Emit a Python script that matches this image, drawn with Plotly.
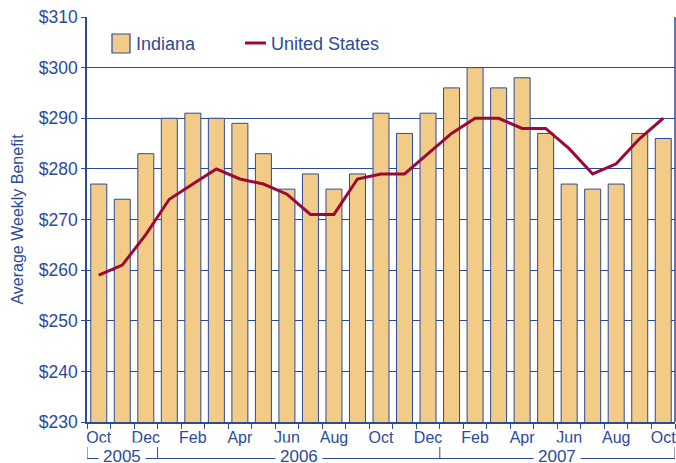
import plotly.graph_objects as go

months = ["Oct", "Nov", "Dec", "Jan", "Feb", "Mar", "Apr", "May", "Jun", "Jul", "Aug", "Sep",
          "Oct", "Nov", "Dec", "Jan", "Feb", "Mar", "Apr", "May", "Jun", "Jul", "Aug", "Sep", "Oct"]
indiana = [277, 274, 283, 290, 291, 290, 289, 283, 276, 279, 276, 279,
           291, 287, 291, 296, 300, 296, 298, 287, 277, 276, 277, 287, 286]
united_states = [259, 261, 267, 274, 277, 280, 278, 277, 275, 271, 271, 278,
                 279, 279, 283, 287, 290, 290, 288, 288, 284, 279, 281, 286, 290]
years = ["2005", "2006", "2007"]
year_bounds = [(-0.5, 2.5), (2.5, 14.5), (14.5, 24.5)]

BLUE = "#2b4a9b"
BAR_FILL = "#f2cb87"
LINE_RED = "#9b0a35"
FONT = "Liberation Sans, Arial, sans-serif"
idx = list(range(len(months)))

W, H = 676, 463
L, R, T, B = 87, 1, 17, 41
PW, PH = W - L - R, H - T - B


def px(x):
    return (x - L) / PW


def py(y):
    return (H - B - y) / PH


fig = go.Figure()
fig.add_trace(go.Bar(x=idx, y=indiana, name="Indiana",
                     marker=dict(color=BAR_FILL, line=dict(color=BLUE, width=1))))
fig.add_trace(go.Scatter(x=idx, y=united_states, name="United States", mode="lines",
                         line=dict(color=LINE_RED, width=3)))

fig.update_layout(
    width=W, height=H,
    margin=dict(l=L, r=R, t=T, b=B, autoexpand=False),
    paper_bgcolor="white", plot_bgcolor="white",
    bargap=0.32,
    font=dict(family=FONT, color=BLUE),
    showlegend=False,
    xaxis=dict(range=[-0.5, 24.5], tickvals=idx[::2], ticktext=months[::2],
               ticks="", tickfont=dict(size=16, color=BLUE), automargin=False,
               ticklabeloverflow="allow",
               showline=True, linecolor=BLUE, linewidth=1.5,
               showgrid=False, zeroline=False,
               minor=dict(tickvals=[i - 0.5 for i in range(len(months) + 1)],
                          ticks="outside", ticklen=5, tickcolor=BLUE, showgrid=False)),
    yaxis=dict(range=[230, 310], dtick=10, tickprefix="$", automargin=False,
               tickfont=dict(size=17.5, color=BLUE),
               showgrid=True, gridcolor=BLUE, gridwidth=1,
               showline=True, linecolor=BLUE, linewidth=1.5,
               ticks="outside", ticklen=4, tickcolor=BLUE, zeroline=False,
               title=dict(text="Average Weekly Benefit", font=dict(size=16, color=BLUE), standoff=11)),
)

# right frame line
fig.add_shape(type="line", xref="paper", yref="paper", x0=1, x1=1, y0=0, y1=1,
              line=dict(color=BLUE, width=1.5))

# manual legend
fig.add_shape(type="rect", xref="paper", yref="paper",
              x0=px(112), x1=px(130), y0=py(53), y1=py(34),
              fillcolor=BAR_FILL, line=dict(color=BLUE, width=1.2))
fig.add_annotation(x=px(134), y=py(43.5), xref="paper", yref="paper", text="Indiana",
                   showarrow=False, xanchor="left", yanchor="middle",
                   font=dict(size=18, color=BLUE))
fig.add_shape(type="line", xref="paper", yref="paper",
              x0=px(245), x1=px(266), y0=py(43), y1=py(43),
              line=dict(color=LINE_RED, width=3))
fig.add_annotation(x=px(269), y=py(43.5), xref="paper", yref="paper", text="United States",
                   showarrow=False, xanchor="left", yanchor="middle",
                   font=dict(size=18, color=BLUE))

# year brackets below the axis
ly = py(458.5)
fig.add_shape(type="line", xref="x", yref="paper", x0=-0.5, x1=24.5, y0=ly, y1=ly,
              line=dict(color=BLUE, width=1))
for b in [-0.5, 2.5, 14.5, 24.5]:
    fig.add_shape(type="line", xref="x", yref="paper", x0=b, x1=b, y0=ly, y1=py(447),
                  line=dict(color=BLUE, width=1))
for (a, b), yr in zip(year_bounds, years):
    fig.add_annotation(x=(a + b) / 2, y=py(456.5), xref="x", yref="paper", text=yr, showarrow=False,
                       font=dict(size=17, color=BLUE), bgcolor="white", yanchor="middle",
                       borderpad=4)

fig.write_html("out.html", config={"displayModeBar": False},
               post_script="document.body.style.margin='0px';")
